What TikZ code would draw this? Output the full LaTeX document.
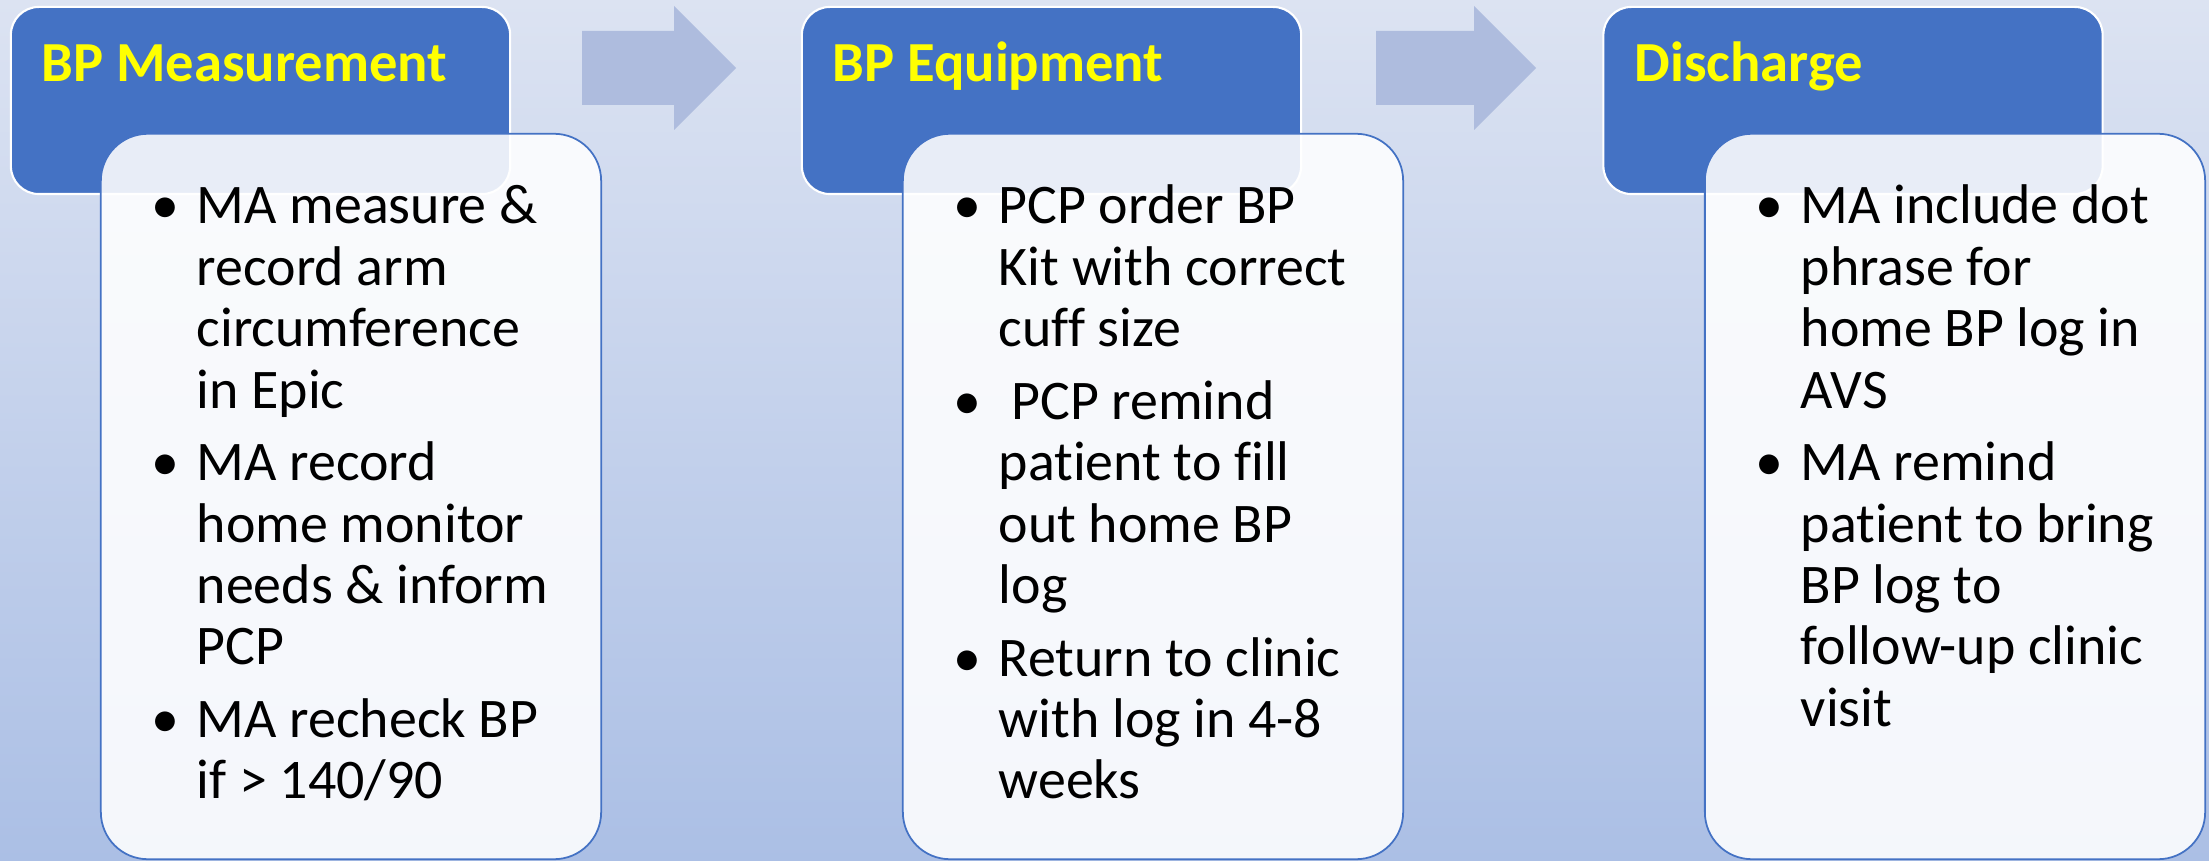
\documentclass[tikz,border=0pt]{standalone}
\usepackage{fontspec}
\setmainfont{Carlito}[Ligatures=NoCommon]
\usepackage{tikz}
\definecolor{bgTop}{HTML}{DCE3F2}
\definecolor{bgBottom}{HTML}{ABBFE5}
\definecolor{headBlue}{HTML}{4472C4}
\definecolor{titleYellow}{HTML}{FFFF00}
\definecolor{arrowFill}{HTML}{AEBCDE}
\newcommand{\bpbullet}{\makebox[0.62cm]{\textbullet}}
\tikzset{
  headbox/.style={rectangle, rounded corners=0.28cm, draw=white, fill=headBlue, line width=0.6pt, minimum width=4.99cm, minimum height=1.87cm, inner sep=0pt},
  bodybox/.style={rectangle, rounded corners=0.47cm, draw=headBlue, fill=white, fill opacity=0.88, line width=0.5pt, minimum width=5.0cm, minimum height=7.25cm, inner sep=0pt},
  titlelabel/.style={anchor=base west, inner sep=0pt, text=titleYellow, font=\fontsize{16.1}{18}\selectfont\bfseries},
  itemlist/.style={anchor=base west, inner sep=0pt, font=\fontsize{15.9}{17.45}\selectfont},
  flowshape/.style={fill=arrowFill},
}

\begin{document}
\begin{tikzpicture}[x=0.01cm,y=-0.01cm]

  % ---------- background ----------
  \shade[top color=bgTop, bottom color=bgBottom] (0,0) rectangle (2209,861);
  \useasboundingbox (0,0) rectangle (2209,861);

  % ---------- step arrows ----------
  \fill[flowshape] (582,31) -- (674,31) -- (674,6) -- (736,68) -- (674,130) -- (674,105) -- (582,105) -- cycle;
  \fill[flowshape] (1376,31) -- (1474,31) -- (1474,6) -- (1536,68) -- (1474,130) -- (1474,105) -- (1376,105) -- cycle;

  % ---------- headers ----------
  \node[headbox] (measHead) at (260.5,100.5) {};
  \node[headbox] (equipHead) at (1051.5,100.5) {};
  \node[headbox] (dischHead) at (1853,100.5) {};

  \node[titlelabel] (measTitle)  at (41,82)   {BP Measurement};
  \node[titlelabel] (equipTitle) at (832,82)  {BP Equipment};
  \node[titlelabel] (dischTitle) at (1634,82) {Discharge};

  % ---------- bodies ----------
  \node[bodybox] (measBody)  at (351,496.5)  {};
  \node[bodybox] (equipBody) at (1153,496.5) {};
  \node[bodybox] (dischBody) at (1955,496.5) {};

  \node[itemlist] (measList) at (134,224) {\begin{tabular}[t]{@{}l@{}l@{}}
    \bpbullet & MA measure \& \\
              & record arm \\
              & circumference \\
              & in Epic \\[3.2pt]
    \bpbullet & MA record \\
              & home monitor \\
              & needs \& inform \\
              & PCP \\[3.2pt]
    \bpbullet & MA recheck BP \\
              & if > 140/90
  \end{tabular}};

  \node[itemlist] (equipList) at (936,224) {\begin{tabular}[t]{@{}l@{}l@{}}
    \bpbullet & PCP order BP \\
              & Kit with correct \\
              & cuff size \\[3.2pt]
    \bpbullet & \ PCP remind \\
              & patient to fill \\
              & out home BP \\
              & log \\[3.2pt]
    \bpbullet & Return to clinic \\
              & with log in 4-8 \\
              & weeks
  \end{tabular}};

  \node[itemlist] (dischList) at (1738,224) {\begin{tabular}[t]{@{}l@{}l@{}}
    \bpbullet & MA include dot \\
              & phrase for \\
              & home BP log in \\
              & AVS \\[3.2pt]
    \bpbullet & MA remind \\
              & patient to bring \\
              & BP log to \\
              & follow-up clinic \\
              & visit
  \end{tabular}};

\end{tikzpicture}
\end{document}
